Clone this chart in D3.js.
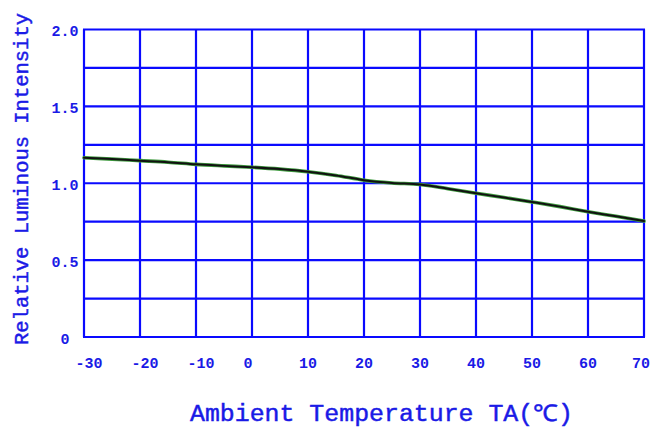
<!DOCTYPE html>
<html>
<head>
<meta charset="utf-8">
<script src="https://cdn.jsdelivr.net/npm/d3@7"></script>
<style>
  html, body { margin: 0; padding: 0; background: #fff; }
  svg { display: block; }
  text { font-family: "Liberation Mono", "DejaVu Sans Mono", monospace; fill: #1a1ae6; }
  .tick-label { font-weight: bold; }
  .axis-title { font-weight: normal; stroke: #1a1ae6; stroke-width: 0.45px; }
</style>
</head>
<body>
<svg id="chart" width="651" height="428"></svg>
<script>
// Relative luminous intensity vs. ambient temperature
const temperatures = [-30, -25, -20, -15, -10, -5, 0, 5, 10, 15, 20, 25, 30, 35, 40, 45, 50, 55, 60, 65, 70];
const intensity    = [1.166, 1.157, 1.147, 1.137, 1.123, 1.113, 1.104, 1.092, 1.075, 1.051, 1.020, 1.002, 0.992, 0.964, 0.935, 0.907, 0.878, 0.848, 0.815, 0.785, 0.754];

const xTicks = [-30, -20, -10, 0, 10, 20, 30, 40, 50, 60, 70];
const yTicks = [0, 0.5, 1.0, 1.5, 2.0];
const yGrid  = [0, 0.25, 0.5, 0.75, 1.0, 1.25, 1.5, 1.75, 2.0];
const yTickLabels = ["0", "0.5", "1.0", "1.5", "2.0"];

const svg = d3.select("#chart");
const plot = { left: 84, right: 644, top: 29.5, bottom: 337 };

const x = d3.scaleLinear().domain([-30, 70]).range([plot.left, plot.right]);
const y = d3.scaleLinear().domain([0, 2]).range([plot.bottom, plot.top]);

const grid = svg.append("g").attr("stroke", "#0a0aff").attr("stroke-width", 2.2).attr("fill", "none");

// vertical grid lines at each x tick
grid.selectAll("line.v").data(xTicks).join("line")
  .attr("class", "v")
  .attr("x1", d => x(d)).attr("x2", d => x(d))
  .attr("y1", y(0)).attr("y2", y(2));

// horizontal grid lines every 0.25
grid.selectAll("line.h").data(yGrid).join("line")
  .attr("class", "h")
  .attr("x1", x(-30) - 1).attr("x2", x(70) + 1)
  .attr("y1", d => y(d)).attr("y2", d => y(d));

// y tick labels
svg.append("g").selectAll("text").data(yTicks).join("text")
  .attr("class", "tick-label")
  .attr("x", 65)
  .attr("y", d => y(d) + 3)
  .attr("text-anchor", "middle")
  .attr("dominant-baseline", "central")
  .attr("font-size", 15)
  .text((d, i) => yTickLabels[i]);

// x tick labels (the last one is kept inside the page edge)
svg.append("g").selectAll("text").data(xTicks).join("text")
  .attr("class", "tick-label")
  .attr("x", d => x(d) + (d < 0 ? 5 : d === 0 ? -4 : d === 70 ? -3 : 0))
  .attr("y", 364)
  .attr("text-anchor", "middle")
  .attr("dominant-baseline", "central")
  .attr("font-size", 15)
  .text(d => d < 0 ? "-" + Math.abs(d) : String(d));

// curve
const line = d3.line().x((d, i) => x(temperatures[i])).y(d => y(d)).curve(d3.curveMonotoneX);
svg.append("path").datum(intensity)
  .attr("d", line).attr("fill", "none")
  .attr("stroke", "#3f9a3f").attr("stroke-width", 3.6).attr("stroke-linecap", "round");
svg.append("path").datum(intensity)
  .attr("d", line).attr("fill", "none")
  .attr("stroke", "#111").attr("stroke-width", 2).attr("stroke-linecap", "round");

// axis titles
svg.append("text")
  .attr("class", "axis-title")
  .attr("x", 190).attr("y", 421)
  .attr("font-size", 23)
  .attr("textLength", 383).attr("lengthAdjust", "spacingAndGlyphs")
  .text("Ambient Temperature TA(\u2103)");

svg.append("text")
  .attr("class", "axis-title")
  .attr("transform", "translate(28,345) rotate(-90)")
  .attr("font-size", 21)
  .attr("textLength", 332).attr("lengthAdjust", "spacingAndGlyphs")
  .text("Relative Luminous Intensity");
</script>
</body>
</html>
